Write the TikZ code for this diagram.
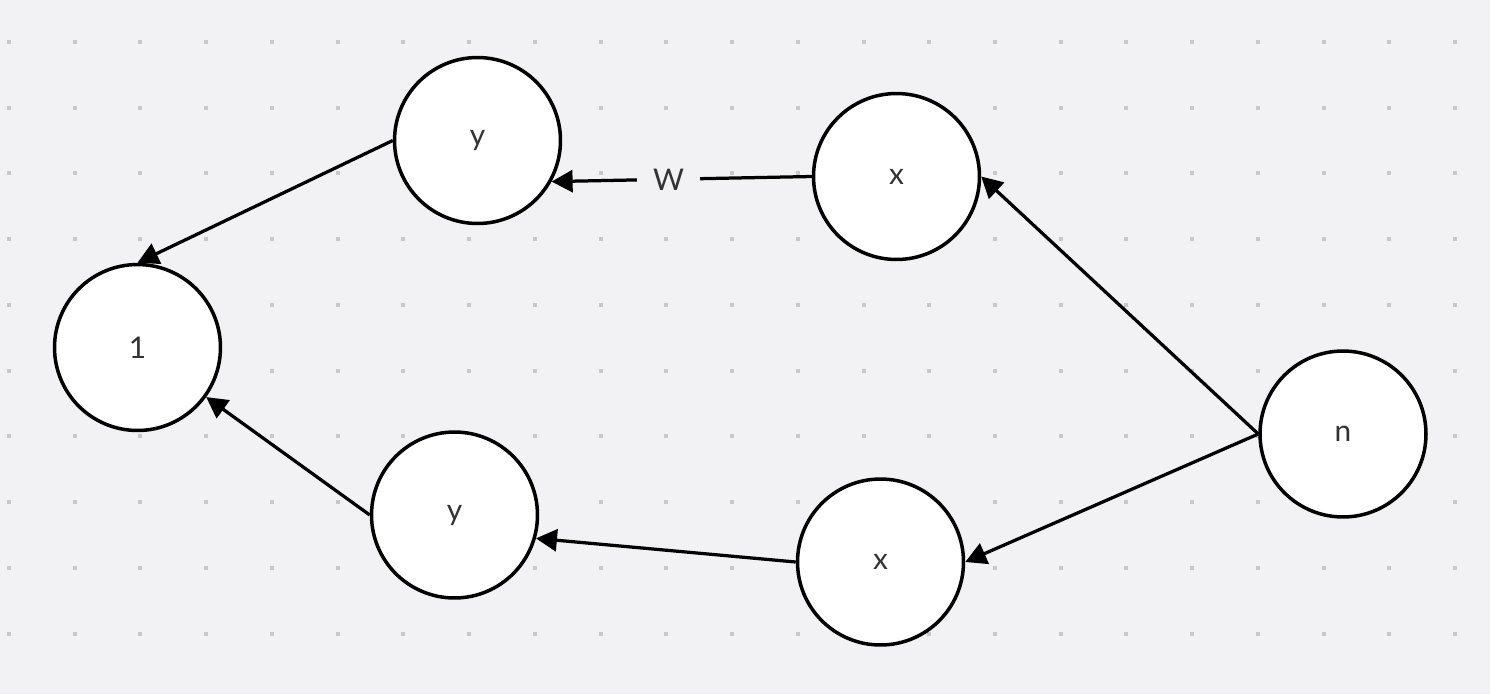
\documentclass[tikz,border=0pt]{standalone}
\usepackage{fontspec}
\setmainfont{Lato}
\usetikzlibrary{arrows.meta}
\definecolor{bggray}{RGB}{242,242,244}
\definecolor{dotgray}{RGB}{200,200,200}
\definecolor{textgray}{RGB}{51,51,51}
\begin{document}
\begin{tikzpicture}[x=0.02cm,y=-0.02cm,
    vertex/.style={circle, draw=black, fill=white, line width=0.07cm,
        minimum size=3.32cm, inner sep=0pt, text=textgray,
        font=\fontsize{17}{20}\selectfont},
    edge/.style={line width=0.065cm, -{Triangle[length=0.42cm,width=0.44cm]}},
    weight/.style={fill=bggray, inner xsep=9pt, text=textgray,
        font=\fontsize{17}{20}\selectfont}]
    % Background and dot grid
    \fill[bggray] (0,0) rectangle (1490,694);
    \useasboundingbox (0,0) rectangle (1490,694);
    \foreach \i in {0,...,22}
        \foreach \j in {0,...,9}
            \fill[dotgray] ({7+65.73*\i},{40+65.73*\j}) rectangle +(4,4);

    % Vertices
    \node[vertex] (one) at (137.5,347.5) {1};
    \node[vertex] (ytop) at (477.5,140.5) {y};
    \node[vertex] (xtop) at (896.5,176.5) {x};
    \node[vertex] (n) at (1343,434) {n};
    \node[vertex] (xbot) at (880.5,562) {x};
    \node[vertex] (ybot) at (454.5,515) {y};

    % Edges
    \draw[edge] (n.west) -- (xtop.east);
    \draw[edge] (n.west) -- (xbot.east);
    \draw[edge] (xtop.west) -- node[weight, pos=0.55] {W} (ytop.-29);
    \draw[edge] (xbot.west) -- (ybot.-16);
    \draw[edge] (ytop.west) -- (one.north);
    \draw[edge] (ybot.west) -- (one);
\end{tikzpicture}
\end{document}
